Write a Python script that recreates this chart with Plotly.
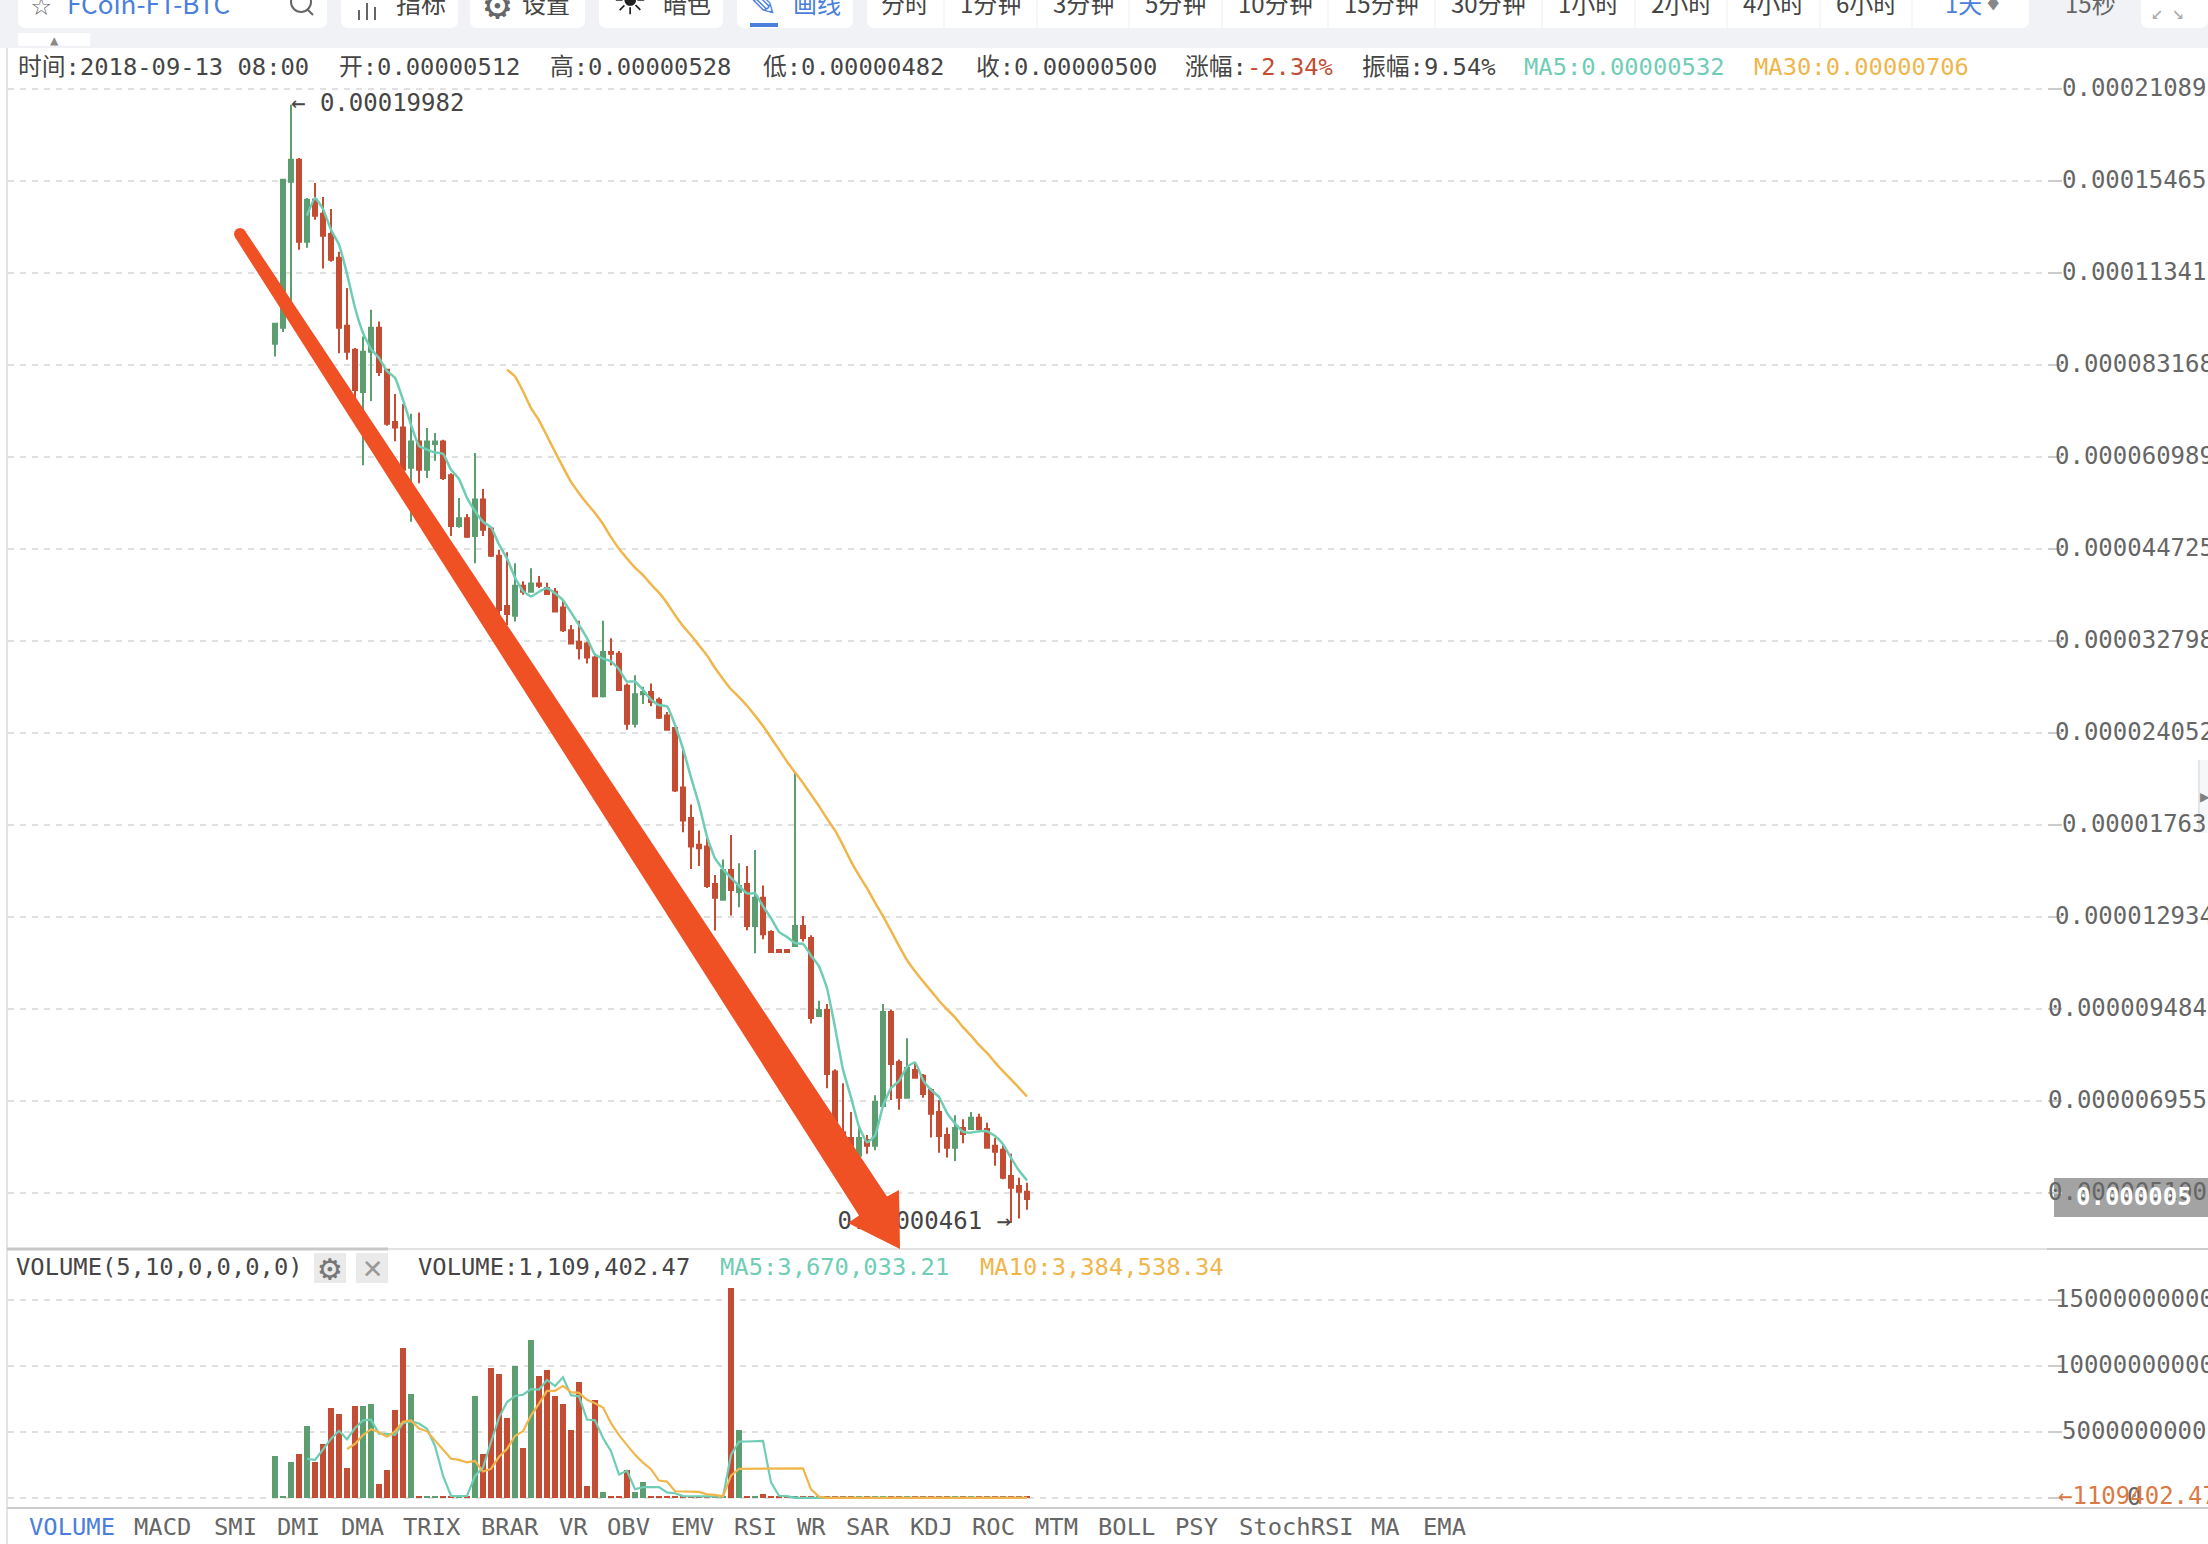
import math
import plotly.graph_objects as go

W, H = 2208, 1544

# ---- price data, in units of 0.000001 BTC ----
OPEN = [89.3,94.2,154.1,166.0,125.9,145.1,138.4,129.3,119.3,94.9,87.5,75.9,86.9,94.2,81.8,68.6,67.3,58.8,64.2,58.4,
        63.7,64.2,57.3,48.3,49.6,46.7,52.8,47.9,43.7,36.9,35.7,39.5,38.7,39.8,39.2,38.7,36.7,34.0,32.7,32.5,
        31.0,27.2,31.6,31.4,28.2,24.8,27.4,27.6,26.9,25.5,24.45,20.0,18.05,16.5,16.4,14.45,13.7,15.15,14.07,14.45,
        12.54,13.8,12.29,11.57,11.57,11.73,12.54,12.05,9.26,9.45,7.68,6.26,6.14,5.78,6.10,5.98,6.84,9.39,7.93,7.03,
        7.72,7.57,7.22,6.70,6.20,5.94,6.35,6.33,6.57,6.33,5.98,5.90,5.40,5.22,5.12]
HIGH = [95.5,155.5,199.82,167.0,145.9,153.5,146.4,140.6,121.7,107.7,88.0,91.5,100.1,96.2,82.1,75.4,72.9,70.5,70.8,67.2,
        66.1,64.6,57.7,53.1,50.3,61.8,54.7,48.1,44.6,44.2,42.6,40.1,41.9,40.8,39.9,39.2,37.7,34.6,35.1,32.7,
        31.4,35.1,33.1,31.7,28.4,29.2,28.1,28.4,27.1,25.8,24.45,22.7,18.9,17.3,16.9,14.9,15.7,17.05,15.5,15.35,
        16.2,14.38,12.37,11.57,11.57,21.0,12.97,12.16,9.75,9.64,7.74,7.38,6.70,6.35,6.20,7.09,9.64,9.47,8.0,8.59,
        7.90,7.62,7.26,6.98,6.36,6.63,6.54,6.70,6.66,6.46,6.14,6.0,5.82,5.37,5.28]
LOW = [85.5,92.9,102.9,122.6,123.4,135.6,115.1,117.7,86.5,84.6,74.2,59.3,73.6,80.1,67.7,64.3,58.0,49.0,55.8,56.8,
       60.2,56.4,46.7,48.0,46.4,42.6,46.7,43.5,35.8,34.6,35.0,38.3,38.7,39.2,38.4,36.2,33.8,32.5,30.8,30.4,
       27.2,27.1,30.2,27.8,24.3,24.5,26.5,26.3,25.2,24.3,19.7,17.2,15.2,15.35,14.26,12.35,13.7,13.0,13.36,12.37,
       11.44,12.0,11.49,11.49,11.49,11.73,11.91,9.03,9.26,7.26,6.20,5.90,5.70,5.70,5.82,5.89,6.84,6.98,6.75,7.03,
       7.52,7.03,6.15,5.84,5.75,5.68,6.03,6.33,6.28,5.92,5.59,5.34,4.61,4.68,4.82]
CLOSE = [95.5,155.2,166.0,125.9,145.1,137.4,128.5,118.5,94.2,86.9,76.4,86.9,94.2,81.2,68.2,67.3,58.4,64.2,58.4,64.2,
         64.2,56.8,48.3,49.6,46.6,52.8,47.7,43.7,36.4,35.9,39.5,38.7,39.8,39.5,38.4,36.2,34.0,32.5,32.0,31.0,
         27.2,31.6,31.4,27.8,24.8,27.4,27.6,26.7,25.3,24.3,19.8,17.9,16.4,16.3,14.35,13.8,15.15,14.16,14.35,12.54,
         13.8,12.2,11.49,11.49,11.49,12.54,12.05,9.20,9.45,7.62,6.26,6.10,5.78,6.14,5.98,6.93,9.39,7.88,7.03,7.77,
         7.52,7.12,6.66,6.18,5.94,6.35,6.22,6.57,6.33,5.94,5.86,5.37,5.19,5.12,5.00]
PRICE_MA5 = [137.5,145.9,140.6,131.1,124.7,113.0,100.8,92.6,87.7,85.1,81.4,79.6,73.9,67.9,63.3,62.5,61.9,61.6,58.4,56.6,
             53.1,50.8,49.0,48.1,45.4,43.3,40.6,38.8,38.1,38.7,39.2,38.5,37.6,36.1,34.6,33.1,31.3,30.9,30.6,29.8,
             28.6,28.6,27.8,26.9,26.4,26.3,24.7,22.8,20.7,18.9,16.95,15.75,15.2,14.75,14.36,14.0,14.0,13.41,12.88,12.30,
             12.09,11.84,11.81,11.35,10.95,10.17,8.92,7.73,7.04,6.38,6.05,6.19,6.84,7.26,7.44,7.80,7.92,7.46,7.22,7.05,
             6.68,6.45,6.27,6.25,6.28,6.28,6.18,6.01,5.74,5.50,5.32]
PRICE_MA30 = [81.82,79.95,76.07,71.86,68.98,65.43,62.05,58.90,56.04,53.96,52.1,50.46,48.62,46.52,44.74,43.30,41.97,40.94,39.69,38.59,
              37.26,35.78,34.48,33.42,32.31,31.23,29.93,28.85,27.86,27.13,26.35,25.49,24.61,23.66,22.73,21.83,21.05,20.31,19.54,18.79,
              18.01,17.31,16.46,15.60,14.88,14.25,13.57,12.97,12.34,11.73,11.18,10.77,10.41,10.08,9.75,9.47,9.22,8.92,8.67,8.40,
              8.18,7.92,7.69,7.48,7.27,7.06]

# ---- volume data, in units of 1,000,000,000 ----
VOLUME = [3.18,.15,2.73,3.33,5.45,2.73,4.09,6.82,6.36,2.27,6.97,6.97,7.12,1.06,2.12,6.67,11.36,7.88,.15,.15,
          .15,.15,.15,.15,.15,7.73,3.33,9.85,9.39,6.06,10.0,3.79,11.97,9.24,9.70,7.73,7.12,5.15,8.79,.91,
          7.42,.45,.15,.15,2.12,.45,1.21,.15,.15,.15,.15,.1,.1,.1,.1,.1,.1,15.9,5.15,.15,
          .15,.3,.15,.15,.15,.15,.15,.15,.15,.15,.15,.15,.15,.15,.15,.15,.15,.15,.15,.15,
          .15,.15,.15,.15,.15,.15,.15,.15,.15,.15,.15,.15,.15,.15,.15]
VOLUME_MA5 = [2.97,2.88,3.67,4.48,5.09,4.45,5.30,5.88,5.94,4.88,4.85,4.79,5.67,5.82,5.64,5.24,3.94,1.70,.15,.15,
              .15,1.67,2.30,4.24,6.09,7.27,7.73,7.82,8.24,8.21,8.94,8.49,9.15,7.79,7.70,5.94,5.88,4.54,3.54,1.78,
              2.06,.66,.82,.82,.82,.42,.36,.14,.13,.12,.11,.10,.10,3.26,4.27,4.28,4.29,4.33,1.18,.17,
              .14,.01,.01,.01,.01,.01,.01,.01,.01,.01,.01,.01,.01,.01,.01,.01,.01,.01,.01,.01,
              .01,.01,.01,.01,.01,.01,.01,.01,.01,.01,.01]
VOLUME_MA10 = [3.71,4.09,4.77,5.21,4.98,4.65,5.05,5.77,5.88,5.26,5.05,4.36,3.68,2.98,2.89,2.70,2.80,2.00,2.20,3.12,
               3.71,4.70,5.06,6.24,7.15,8.11,8.11,8.49,8.02,7.96,7.44,7.18,6.85,5.67,4.76,4.00,3.27,2.68,2.18,1.32,
               1.24,.51,.48,.47,.46,.27,.23,.12,1.70,2.20,2.20,2.20,2.23,2.24,2.24,2.24,2.25,2.25,.65,.10,
               .01,.01,.01,.01,.01,.01,.01,.01,.01,.01,.01,.01,.01,.01,.01,.01,.01,.01,.01,.01,
               .01,.01,.01,.01,.01,.01]

PRICE_TICK_LABELS = ["0.00021089","0.00015465","0.00011341","0.000083168","0.000060989","0.000044725",
                     "0.000032798","0.000024052","0.00001763","0.000012934","0.0000094845","0.0000069552","0.0000051005"]
VOLUME_TICK_LABELS = ["15000000000","10000000000","5000000000","0"]
INDICATOR_TABS = ["VOLUME","MACD","SMI","DMI","DMA","TRIX","BRAR","VR","OBV","EMV","RSI","WR","SAR","KDJ","ROC","MTM","BOLL","PSY","StochRSI","MA","EMA"]
INDICATOR_X = [28,133,213,276,340,402,480,558,606,670,733,796,845,909,971,1034,1097,1174,1238,1370,1422]
PERIOD_LABELS = ["分时","1分钟","3分钟","5分钟","10分钟","15分钟","30分钟","1小时","2小时","4小时","6小时"]
PERIOD_X = [905,990,1083,1175,1275,1381,1488,1588,1681,1773,1866]
PERIOD_DIVIDERS = [944,1037,1129,1222,1328,1435,1542,1635,1727,1820,1912]

RED, GREEN = "#C44C33", "#5C9E70"
TEAL, AMBER = "#70CDB5", "#F0B64B"
ORANGE = "#EF5124"
MONO = "'DejaVu Sans Mono','Noto Sans CJK SC',monospace"
SANS = "'Noto Sans CJK SC','Noto Sans',sans-serif"
DARK, MID = "#454545", "#666666"

def px(x): return x / W
def py(y): return 1 - y / H

index = list(range(len(CLOSE)))
scale_p = lambda a: [v * 1e-6 for v in a]
scale_v = lambda a: [v * 1e9 for v in a]

fig = go.Figure()
fig.add_trace(go.Candlestick(
    x=index, open=scale_p(OPEN), high=scale_p(HIGH), low=scale_p(LOW), close=scale_p(CLOSE),
    increasing=dict(line=dict(color=GREEN, width=2), fillcolor=GREEN),
    decreasing=dict(line=dict(color=RED, width=2), fillcolor=RED),
    whiskerwidth=0, xaxis="x", yaxis="y", showlegend=False, hoverinfo="skip"))
fig.add_trace(go.Scatter(x=list(range(4, 4 + len(PRICE_MA5))), y=scale_p(PRICE_MA5), mode="lines",
                         line=dict(color=TEAL, width=2.5, shape="spline", smoothing=0.4), showlegend=False, hoverinfo="skip"))
fig.add_trace(go.Scatter(x=list(range(29, 29 + len(PRICE_MA30))), y=scale_p(PRICE_MA30), mode="lines",
                         line=dict(color=AMBER, width=2.5, shape="spline", smoothing=0.4), showlegend=False, hoverinfo="skip"))
fig.add_trace(go.Scatter(x=[2], y=[HIGH[2] * 1e-6], mode="text", text=["← 0.00019982"], textposition="middle right",
                         textfont=dict(family=MONO, size=24, color=DARK), showlegend=False, hoverinfo="skip"))
fig.add_trace(go.Scatter(x=[92], y=[LOW[92] * 1e-6], mode="text", text=["0.00000461 →"], textposition="middle left",
                         textfont=dict(family=MONO, size=24, color=DARK), showlegend=False, hoverinfo="skip"))

bar_colors = [GREEN if c >= o else RED for o, c in zip(OPEN, CLOSE)]
fig.add_trace(go.Bar(x=index, y=scale_v(VOLUME), width=0.75, marker=dict(color=bar_colors, line=dict(width=0)),
                     xaxis="x2", yaxis="y2", showlegend=False, hoverinfo="skip"))
fig.add_trace(go.Scatter(x=list(range(4, 4 + len(VOLUME_MA5))), y=scale_v(VOLUME_MA5), mode="lines",
                         line=dict(color=TEAL, width=2.2), xaxis="x2", yaxis="y2", showlegend=False, hoverinfo="skip"))
fig.add_trace(go.Scatter(x=list(range(9, 9 + len(VOLUME_MA10))), y=scale_v(VOLUME_MA10), mode="lines",
                         line=dict(color=AMBER, width=2.2), xaxis="x2", yaxis="y2", showlegend=False, hoverinfo="skip"))

annotations, shapes = [], []

def label(x, y, text, size=23.8, color=DARK, family=MONO, anchor="left"):
    annotations.append(dict(x=px(x), y=py(y), xref="paper", yref="paper", text=text, showarrow=False,
                            xanchor=anchor, yanchor="middle", align=anchor,
                            font=dict(family=family, size=size, color=color), borderpad=0))

def rect(x0, y0, x1, y1, fill, layer="below"):
    shapes.append(dict(type="rect", xref="paper", yref="paper", x0=px(x0), x1=px(x1), y0=py(y0), y1=py(y1),
                       fillcolor=fill, line=dict(width=0), layer=layer))

def rule(x0, y0, x1, y1, color, width=2, layer="above"):
    shapes.append(dict(type="line", xref="paper", yref="paper", x0=px(x0), x1=px(x1), y0=py(y0), y1=py(y1),
                       line=dict(color=color, width=width), layer=layer))

def round_rect(x0, y0, x1, y1, fill, r=8):
    p = (f"M {px(x0)} {py(y0)} L {px(x1)} {py(y0)} L {px(x1)} {py(y1 - r)} "
         f"Q {px(x1)} {py(y1)} {px(x1 - r)} {py(y1)} L {px(x0 + r)} {py(y1)} "
         f"Q {px(x0)} {py(y1)} {px(x0)} {py(y1 - r)} Z")
    shapes.append(dict(type="path", xref="paper", yref="paper", path=p, fillcolor=fill, line=dict(width=0), layer="below"))

# toolbar
rect(0, 0, W, 48, "#F0F2F5")
for x0, x1 in [(18, 327), (341, 458), (470, 585), (599, 723), (737, 853), (867, 2029), (2141, 2208)]:
    round_rect(x0, 0, x1, 28, "#FFFFFF")
for xd in PERIOD_DIVIDERS:
    rule(xd, 0, xd, 28, "#EDEFF2", 1, "below")
rect(18, 33, 90, 46, "#FFFFFF")
label(54, 40, "▲", 14, "#8A8A8A", MONO, "center")
BLUE = "#4A80DC"
label(41, 3, "☆", 34, "#666666", MONO, "center")
label(66, 2, "FCoin-FT-BTC", 26, BLUE, SANS)
shapes.append(dict(type="circle", xref="paper", yref="paper", x0=px(291), x1=px(311), y0=py(-8), y1=py(12),
                   line=dict(color="#666666", width=2), layer="above"))
rule(307, 9, 313, 15, "#666666", 2)
for xb, ytop in [(359, 10), (367, 3), (375, 7)]:
    rule(xb, ytop, xb, 20, "#666666", 2)
label(395, 2, "指标", 25, DARK, SANS)
label(497, 3, "⚙", 44, "#666666", MONO, "center")
label(521, 2, "设置", 24, DARK, SANS)
label(630, 1, "☀", 50, "#222222", MONO, "center")
label(662, 2, "暗色", 24, DARK, SANS)
label(763, 2, "✎", 40, BLUE, MONO, "center")
rule(750, 25, 778, 25, BLUE, 4)
label(792, 2, "画线", 24, BLUE, SANS, "left")
for t, x in zip(PERIOD_LABELS, PERIOD_X):
    label(x, 2, t, 24, DARK, SANS, "center")
label(1963, 2, "1天", 24, BLUE, SANS, "center")
label(1993, 4, "♦", 24, "#888888", MONO, "center")
label(2090, 2, "15秒", 24, MID, SANS, "center")
label(2157, 12, "↙", 20, "#AAAAAA", MONO, "center")
label(2178, 12, "↘", 20, "#AAAAAA", MONO, "center")

# header of the price pane
for x, t in [(17, "时间:2018-09-13 08:00"), (338, "开:0.00000512"), (549, "高:0.00000528"),
             (762, "低:0.00000482"), (975, "收:0.00000500"),
             (1184, f'涨幅:<span style="color:{RED}">-2.34%</span>'), (1361, "振幅:9.54%")]:
    label(x, 67, t)
label(1523, 67, "MA5:0.00000532", color=TEAL)
label(1753, 67, "MA30:0.00000706", color=AMBER)

# price axis labels
rect(2054, 1178, W, 1217, "#A3A3A3")
for t in PRICE_TICK_LABELS:
    annotations.append(dict(x=px(2134), y=math.log10(float(t)), xref="paper", yref="y", text=t, showarrow=False,
                            xanchor="center", yanchor="middle", yshift=1,
                            font=dict(family=MONO, size=24, color=MID)))
label(2134, 1197, "<b>0.000005</b>", 24, "#FFFFFF", MONO, "center")

# small widget at the right edge
rect(2199, 760, W, 833, "#F6F7F9")
rule(2199, 760, 2199, 833, "#E3E6EA", 2)
label(2205, 797, "▶", 16, "#808080", MONO, "center")

# volume pane header and axis labels
rect(314, 1253, 346, 1283, "#EAEAEA")
rect(356, 1253, 388, 1283, "#EAEAEA")
label(15, 1267, "VOLUME(5,10,0,0,0,0)")
label(330, 1267, "⚙", 36, "#777777", MONO, "center")
label(372, 1267, "✕", 32, "#999999", MONO, "center")
label(417, 1267, "VOLUME:1,109,402.47")
label(719, 1267, "MA5:3,670,033.21", color=TEAL)
label(979, 1267, "MA10:3,384,538.34", color=AMBER)
for t in VOLUME_TICK_LABELS:
    annotations.append(dict(x=px(2134), y=float(t), xref="paper", yref="y2", text=t, showarrow=False,
                            xanchor="center", yanchor="middle", yshift=1,
                            font=dict(family=MONO, size=24, color=MID)))
label(2057, 1496, "←1109402.47", 24, "#DB7A45", MONO)

# indicator tabs
for t, x in zip(INDICATOR_TABS, INDICATOR_X):
    label(x, 1527, t, 23.8, BLUE if t == "VOLUME" else MID)

# frame lines
rule(7, 48, 7, 1544, "#E4E4E4", 2)
rule(7, 1249, 388, 1249, "#C8C8C8", 3)
rule(388, 1249, 2208, 1249, "#E2E2E2", 2)
rule(2047, 1249, 2208, 1249, "#CCCCCC", 2)
rule(7, 1508, 2208, 1508, "#CCCCCC", 2)

# the hand-drawn arrow on top of the chart
arrow = [(245, 230.7), (887, 1196.5), (899, 1190), (900, 1249), (848, 1223), (859, 1215.5), (235, 237.3)]
path = "M " + " L ".join(f"{px(a)} {py(b)}" for a, b in arrow) + " Z"
shapes.append(dict(type="path", xref="paper", yref="paper", path=path, fillcolor=ORANGE, line=dict(width=0), layer="above"))
shapes.append(dict(type="circle", xref="paper", yref="paper", x0=px(234), x1=px(246), y0=py(228), y1=py(240),
                   fillcolor=ORANGE, line=dict(width=0), layer="above"))

x_lo, x_hi = (8 - 275) / 8, (2047 - 275) / 8
hidden_x = dict(range=[x_lo, x_hi], domain=[px(8), px(2047)], showgrid=False, showticklabels=False,
                ticks="", zeroline=False, showline=False, fixedrange=True, rangeslider=dict(visible=False))
grid = dict(showgrid=True, gridcolor="#E0E0E0", gridwidth=2, griddash="6px,6px", side="right", ticks="outside",
            ticklen=14, tickwidth=2, tickcolor="#CCCCCC", showticklabels=False, zeroline=False, showline=False, fixedrange=True)

fig.update_layout(
    width=W, height=H, margin=dict(l=0, r=0, t=0, b=0), paper_bgcolor="#FFFFFF", plot_bgcolor="#FFFFFF",
    showlegend=False, boxgap=0.5, boxgroupgap=0, bargap=0,
    xaxis=dict(hidden_x, anchor="y"),
    xaxis2=dict(hidden_x, anchor="y2"),
    yaxis=dict(grid, type="log", range=[-5.3744, -3.6163], domain=[py(1249), py(48)], anchor="x",
               tickmode="array", tickvals=[float(t) for t in PRICE_TICK_LABELS]),
    yaxis2=dict(grid, range=[-0.76e9, 18.79e9], domain=[py(1508), py(1250)], anchor="x2",
                tickmode="array", tickvals=[float(t) for t in VOLUME_TICK_LABELS]),
    annotations=annotations, shapes=shapes,
)
fig.write_html("out.html", config=dict(displayModeBar=False),
               post_script="document.body.style.margin='0';document.body.style.overflow='hidden';")
